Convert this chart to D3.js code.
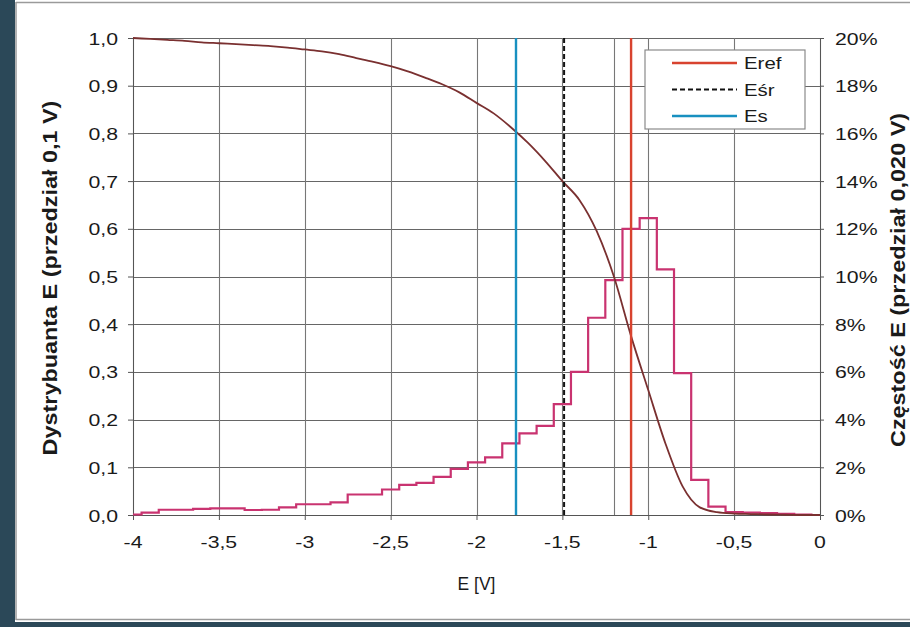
<!DOCTYPE html>
<html><head><meta charset="utf-8">
<script src="https://cdn.jsdelivr.net/npm/d3@7"></script>
<style>html,body{margin:0;padding:0;background:#fff;}svg{display:block;}</style>
</head><body>
<svg id="c" width="910" height="627"></svg>
<script>
// ---- data ----
const E = [-4.0,-3.9,-3.8,-3.7,-3.6,-3.5,-3.4,-3.3,-3.2,-3.1,-3.0,-2.9,-2.8,-2.7,-2.6,-2.5,-2.4,-2.3,-2.2,-2.1,-2.0,-1.9,-1.8,-1.7,-1.6,-1.5,-1.4,-1.3,-1.2,-1.1,-1.0,-0.9,-0.8,-0.7,-0.6,-0.5,-0.4,-0.3,-0.2,-0.1,0.0];
const freqPct = [0.02,0.10,0.22,0.22,0.26,0.28,0.28,0.21,0.22,0.32,0.45,0.45,0.53,0.86,0.86,1.07,1.26,1.35,1.60,1.93,2.21,2.42,3.00,3.42,3.74,4.65,6.00,8.27,9.85,12.00,12.45,10.30,5.95,1.47,0.35,0.12,0.10,0.08,0.05,0.02,0.00];
const cdf = [1.000,0.998,0.996,0.994,0.991,0.989,0.987,0.985,0.983,0.980,0.976,0.972,0.966,0.958,0.950,0.941,0.930,0.917,0.903,0.886,0.864,0.842,0.813,0.780,0.742,0.700,0.660,0.595,0.500,0.375,0.262,0.150,0.060,0.016,0.006,0.003,0.002,0.001,0.0005,0.0,0.0];
const markerNames = ["Eref","Eśr","Es"];
const markerValues = [-1.10,-1.49,-1.77];
const markerColors = ["#d8432f","#111111","#1890c0"];
const markerDash = [null,"5,3",null];
const xTicks = [-4,-3.5,-3,-2.5,-2,-1.5,-1,-0.5,0];
const extraGridX = [-1.2];
const yLeftTicks = [0,0.1,0.2,0.3,0.4,0.5,0.6,0.7,0.8,0.9,1.0];
const yRightTicks = [0,2,4,6,8,10,12,14,16,18,20];
const xTitle = "E [V]";
const yLeftTitle = "Dystrybuanta E (przedział 0,1 V)";
const yRightTitle = "Częstość E (przedział 0,020 V)";

// ---- layout ----
const svg = d3.select("#c");
const L = 133, R = 820, T = 38, B = 515;
const x = d3.scaleLinear().domain([-4,0]).range([L,R]);
const yL = d3.scaleLinear().domain([0,1]).range([B,T]);
const yR = d3.scaleLinear().domain([0,20]).range([B,T]);
const comma = v => d3.format(".1f")(v).replace(".",",");
const xfmt = v => String(v).replace(".",",");
const FONT = "'Liberation Sans', Arial, sans-serif";
const SX = 1.25;

// frame
svg.append("rect").attr("x",0).attr("y",0).attr("width",910).attr("height",627).attr("fill","#2b4858");
svg.append("rect").attr("x",15).attr("y",0).attr("width",895).attr("height",622).attr("fill","#ffffff");
svg.append("line").attr("x1",16).attr("x2",910).attr("y1",2.5).attr("y2",2.5).attr("stroke","#9a9a9a").attr("stroke-width",1.5);
svg.append("line").attr("x1",16).attr("x2",16).attr("y1",2).attr("y2",620).attr("stroke","#9a9a9a").attr("stroke-width",1.5);
svg.append("line").attr("x1",16).attr("x2",910).attr("y1",619.5).attr("y2",619.5).attr("stroke","#9a9a9a").attr("stroke-width",1.5);

// grid
const g = svg.append("g");
g.selectAll(".hg").data(yLeftTicks).join("line")
  .attr("x1",L).attr("x2",R).attr("y1",d=>Math.round(yL(d))+0.5).attr("y2",d=>Math.round(yL(d))+0.5)
  .attr("stroke","#666").attr("stroke-width",1.1);
g.selectAll(".vg").data(xTicks.concat(extraGridX)).join("line")
  .attr("x1",d=>Math.round(x(d))+0.5).attr("x2",d=>Math.round(x(d))+0.5).attr("y1",T).attr("y2",B)
  .attr("stroke","#777").attr("stroke-width",1.1);

// axes
const axB = svg.append("g").attr("transform",`translate(0,${B})`).call(d3.axisBottom(x).tickValues(xTicks).tickSize(5).tickFormat(""));
const axL = svg.append("g").attr("transform",`translate(${L},0)`).call(d3.axisLeft(yL).tickValues(yLeftTicks).tickSize(5).tickFormat(""));
const axR = svg.append("g").attr("transform",`translate(${R},0)`).call(d3.axisRight(yR).tickValues(yRightTicks).tickSize(4).tickFormat(""));
[axB,axL,axR].forEach(a=>{a.selectAll("path,line").attr("stroke","#555").attr("stroke-width",1);});

function txt(s, px, py, anchor, size, weight, sx){
  return svg.append("text").attr("transform",`translate(${px},${py}) scale(${sx||SX},1)`)
    .attr("text-anchor",anchor).attr("font-family",FONT).attr("font-size",size)
    .attr("font-weight",weight||"normal").attr("fill","#1a1a1a").text(s);
}
xTicks.forEach(v=>txt(xfmt(v), x(v), 548, "middle", 17));
yLeftTicks.forEach(v=>txt(comma(v), 118, yL(v)+6.5, "end", 17));
yRightTicks.forEach(v=>txt(v+"%", 835, yR(v)+6.5, "start", 17));
txt(xTitle, (L+R)/2, 590, "middle", 19, "normal", 0.92);

function vtitle(s, bx, cy){
  svg.append("text").attr("transform",`translate(${bx},${cy}) rotate(-90) scale(1.3,1.15)`)
    .attr("text-anchor","middle").attr("font-family",FONT).attr("font-size",18).attr("font-weight","bold")
    .attr("fill","#1a1a1a").text(s);
}
vtitle(yLeftTitle, 57, 278);
vtitle(yRightTitle, 905, 280);

// histogram (step)
const pts = E.map((e,i)=>({e, f:freqPct[i], c:cdf[i]}));
svg.append("path").datum(pts)
  .attr("d", d3.line().x(d=>x(d.e)).y(d=>yR(d.f)).curve(d3.curveStep))
  .attr("fill","none").attr("stroke","#c93370").attr("stroke-width",2.2);

// cdf line
svg.append("path").datum(pts)
  .attr("d", d3.line().x(d=>x(d.e)).y(d=>yL(d.c)).curve(d3.curveMonotoneX))
  .attr("fill","none").attr("stroke","#7a3030").attr("stroke-width",1.8);

// markers
markerValues.forEach((v,i)=>{
  svg.append("line").attr("x1",x(v)).attr("x2",x(v)).attr("y1",T).attr("y2",B)
    .attr("stroke",markerColors[i]).attr("stroke-width",i===1?2:2.4)
    .attr("stroke-dasharray",markerDash[i]);
});

// legend
const lg = svg.append("g");
lg.append("rect").attr("x",645).attr("y",50).attr("width",160).attr("height",79)
  .attr("fill","#fff").attr("stroke","#8a8a8a").attr("stroke-width",1.2);
markerNames.forEach((n,i)=>{
  const yy = 63 + i*26.5;
  lg.append("line").attr("x1",672).attr("x2",737).attr("y1",yy).attr("y2",yy)
    .attr("stroke",markerColors[i]).attr("stroke-width",i===1?2.2:2.4).attr("stroke-dasharray",markerDash[i]);
  lg.append("text").attr("transform",`translate(744,${yy+6}) scale(1.2,1)`)
    .attr("font-family",FONT).attr("font-size",17).attr("fill","#1a1a1a").text(n);
});
</script>
</body></html>
